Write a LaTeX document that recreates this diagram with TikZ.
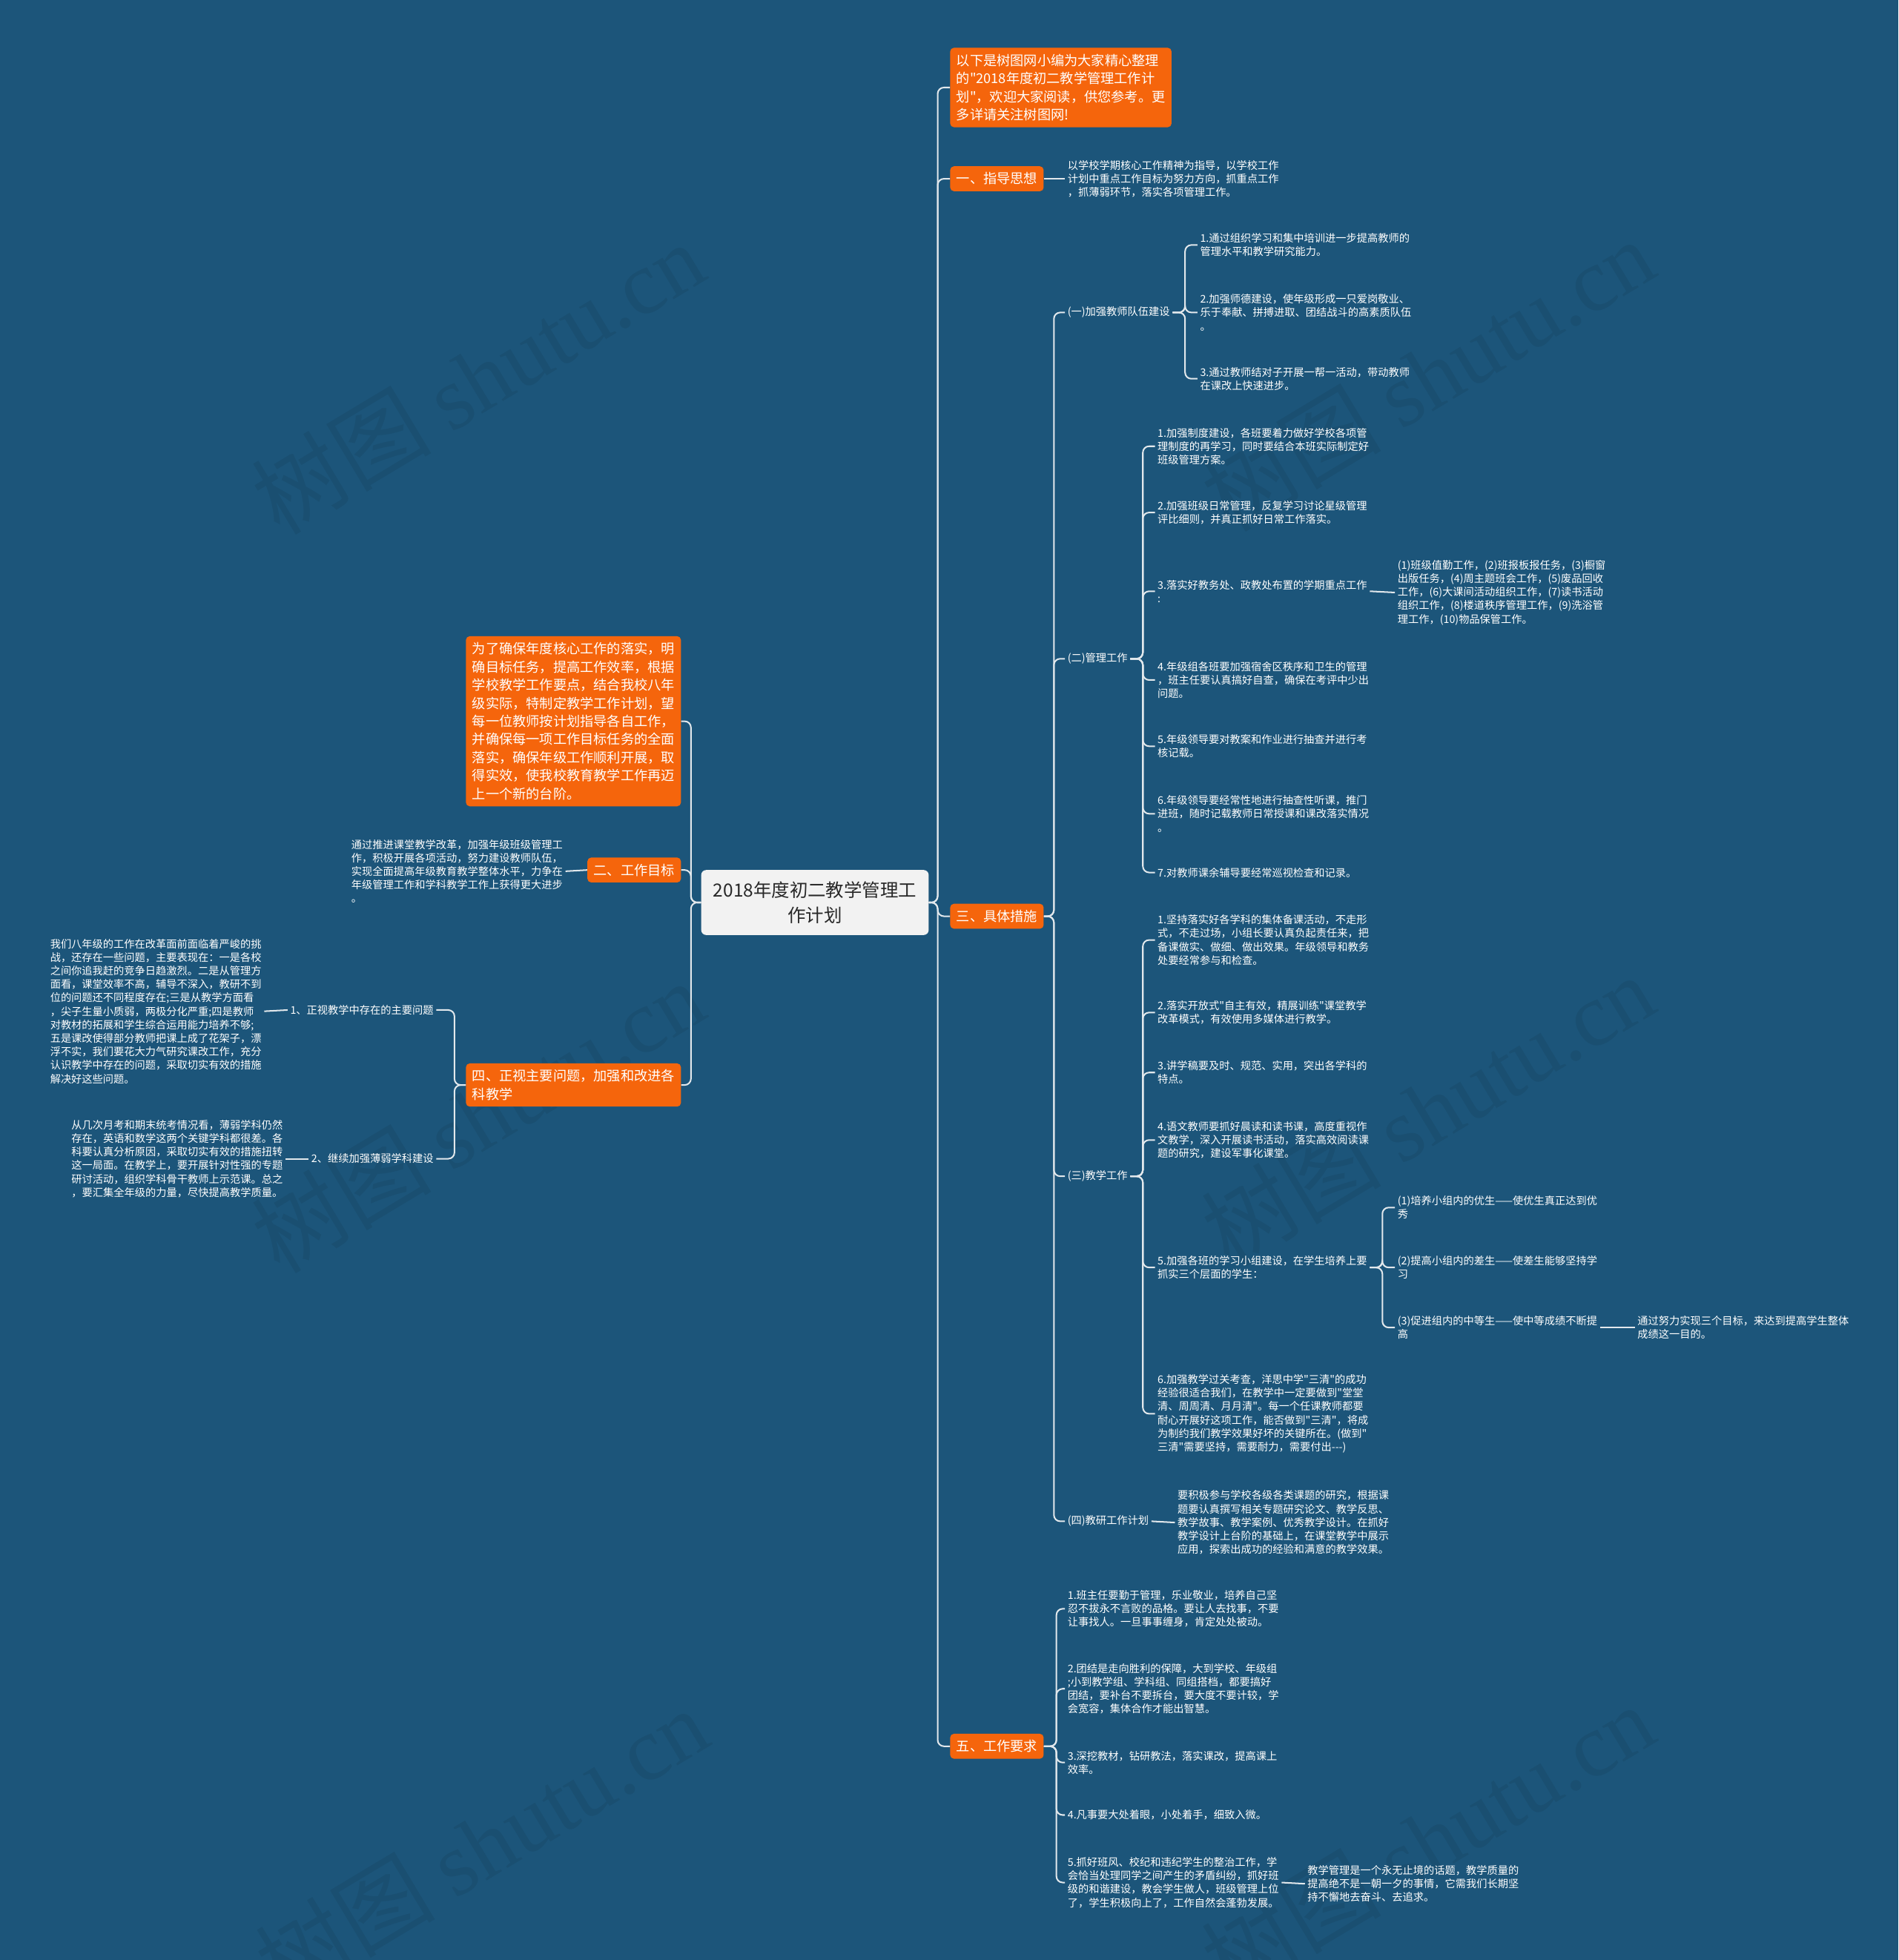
\documentclass[tikz,border=0pt]{standalone}
\usepackage{fontspec}
\setmainfont{Noto Sans CJK SC}[Ligatures=TeXOff]
\newfontfamily\wmfont{Liberation Serif}
\definecolor{mapbg}{RGB}{28,85,122}
\definecolor{boxorange}{RGB}{245,101,12}
\definecolor{linegray}{RGB}{226,232,236}
\definecolor{rootfill}{RGB}{242,242,242}
\definecolor{rootdark}{RGB}{40,40,40}
\tikzset{
	orangebox/.style={fill=boxorange,text=white,rounded corners=3pt,align=left,font=\fontsize{10.8}{14.5}\selectfont,inner xsep=5pt,inner ysep=5pt},
	tagbox/.style={fill=boxorange,text=white,rounded corners=3pt,font=\fontsize{10.8}{13}\selectfont,inner xsep=5pt,inner ysep=5pt},
	leaf/.style={text=white,align=left,font=\fontsize{8.45}{10.8}\selectfont,inner sep=2pt},
	link/.style={draw=linegray,line width=1.2pt,rounded corners=5pt},
	watermark/.style={rotate=31,text=black,opacity=0.07,font=\fontsize{72}{72}\selectfont}
}
\begin{document}
\begin{tikzpicture}[x=1pt,y=-1pt]
	\fill[mapbg] (0,0) rectangle (1519,1568);
	\useasboundingbox (0,0) rectangle (1519,1568);
	
	\foreach \wx/\wy [count=\wi] in {382/302,1142/300,382/893,1142/888,385/1475,1142/1472}
		\node[watermark] (wm\wi) at (\wx,\wy) {树图 {\wmfont shutu.cn}};
	
	\node[fill=rootfill,text=rootdark,rounded corners=4pt,align=center,minimum width=182pt,minimum height=52pt,font=\fontsize{14.5}{20}\selectfont] (root) at (652,722) {2018年度初二教学管理工\\作计划};
	
	% right side
	\node[orangebox,anchor=west] (intro) at (760,70) {以下是树图网小编为大家精心整理\\的"2018年度初二教学管理工作计\\划"，欢迎大家阅读，供您参考。更\\多详请关注树图网!};
	\node[tagbox,anchor=west] (s1) at (760,143) {一、指导思想};
	\node[tagbox,anchor=west] (s3) at (760,733) {三、具体措施};
	\node[tagbox,anchor=west] (s5) at (760,1397) {五、工作要求};
	
	\node[leaf,anchor=west] (s1t) at (852,143) {以学校学期核心工作精神为指导，以学校工作\\计划中重点工作目标为努力方向，抓重点工作\\，抓薄弱环节，落实各项管理工作。};
	
	\node[leaf,anchor=west] (m1) at (852,250) {(一)加强教师队伍建设};
	\node[leaf,anchor=west] (m1a) at (958,196) {1.通过组织学习和集中培训进一步提高教师的\\管理水平和教学研究能力。};
	\node[leaf,anchor=west] (m1b) at (958,250) {2.加强师德建设，使年级形成一只爱岗敬业、\\乐于奉献、拼搏进取、团结战斗的高素质队伍\\。};
	\node[leaf,anchor=west] (m1c) at (958,303) {3.通过教师结对子开展一帮一活动，带动教师\\在课改上快速进步。};
	
	\node[leaf,anchor=west] (m2) at (852,527) {(二)管理工作};
	\node[leaf,anchor=west] (m2a) at (924,357) {1.加强制度建设，各班要着力做好学校各项管\\理制度的再学习，同时要结合本班实际制定好\\班级管理方案。};
	\node[leaf,anchor=west] (m2b) at (924,410) {2.加强班级日常管理，反复学习讨论星级管理\\评比细则，并真正抓好日常工作落实。};
	\node[leaf,anchor=west] (m2c) at (924,473) {3.落实好教务处、政教处布置的学期重点工作\\:};
	\node[leaf,anchor=west] (m2c1) at (1116,474) {(1)班级值勤工作，(2)班报板报任务，(3)橱窗\\出版任务，(4)周主题班会工作，(5)废品回收\\工作，(6)大课间活动组织工作，(7)读书活动\\组织工作，(8)楼道秩序管理工作，(9)洗浴管\\理工作，(10)物品保管工作。};
	\node[leaf,anchor=west] (m2d) at (924,544) {4.年级组各班要加强宿舍区秩序和卫生的管理\\，班主任要认真搞好自查，确保在考评中少出\\问题。};
	\node[leaf,anchor=west] (m2e) at (924,597) {5.年级领导要对教案和作业进行抽查并进行考\\核记载。};
	\node[leaf,anchor=west] (m2f) at (924,651) {6.年级领导要经常性地进行抽查性听课，推门\\进班，随时记载教师日常授课和课改落实情况\\。};
	\node[leaf,anchor=west] (m2g) at (924,698) {7.对教师课余辅导要经常巡视检查和记录。};
	
	\node[leaf,anchor=west] (m3) at (852,941) {(三)教学工作};
	\node[leaf,anchor=west] (m3a) at (924,752) {1.坚持落实好各学科的集体备课活动，不走形\\式，不走过场，小组长要认真负起责任来，把\\备课做实、做细、做出效果。年级领导和教务\\处要经常参与和检查。};
	\node[leaf,anchor=west] (m3b) at (924,810) {2.落实开放式"自主有效，精展训练"课堂教学\\改革模式，有效使用多媒体进行教学。};
	\node[leaf,anchor=west] (m3c) at (924,858) {3.讲学稿要及时、规范、实用，突出各学科的\\特点。};
	\node[leaf,anchor=west] (m3d) at (924,912) {4.语文教师要抓好晨读和读书课，高度重视作\\文教学，深入开展读书活动，落实高效阅读课\\题的研究，建设军事化课堂。};
	\node[leaf,anchor=west] (m3e) at (924,1014) {5.加强各班的学习小组建设，在学生培养上要\\抓实三个层面的学生：};
	\node[leaf,anchor=west] (m3e1) at (1116,966) {(1)培养小组内的优生——使优生真正达到优\\秀};
	\node[leaf,anchor=west] (m3e2) at (1116,1014) {(2)提高小组内的差生——使差生能够坚持学\\习};
	\node[leaf,anchor=west] (m3e3) at (1116,1062) {(3)促进组内的中等生——使中等成绩不断提\\高};
	\node[leaf,anchor=west] (m3e3t) at (1308,1062) {通过努力实现三个目标，来达到提高学生整体\\成绩这一目的。};
	\node[leaf,anchor=west] (m3f) at (924,1131) {6.加强教学过关考查，洋思中学"三清"的成功\\经验很适合我们，在教学中一定要做到"堂堂\\清、周周清、月月清"。每一个任课教师都要\\耐心开展好这项工作，能否做到"三清"，将成\\为制约我们教学效果好坏的关键所在。(做到"\\三清"需要坚持，需要耐力，需要付出{-}{-}{-})};
	
	\node[leaf,anchor=west] (m4) at (852,1217) {(四)教研工作计划};
	\node[leaf,anchor=west] (m4t) at (940,1218) {要积极参与学校各级各类课题的研究，根据课\\题要认真撰写相关专题研究论文、教学反思、\\教学故事、教学案例、优秀教学设计。在抓好\\教学设计上台阶的基础上，在课堂教学中展示\\应用，探索出成功的经验和满意的教学效果。};
	
	\node[leaf,anchor=west] (r1) at (852,1287) {1.班主任要勤于管理，乐业敬业，培养自己坚\\忍不拔永不言败的品格。要让人去找事，不要\\让事找人。一旦事事缠身，肯定处处被动。};
	\node[leaf,anchor=west] (r2) at (852,1351) {2.团结是走向胜利的保障，大到学校、年级组\\;小到教学组、学科组、同组搭档，都要搞好\\团结，要补台不要拆台，要大度不要计较，学\\会宽容，集体合作才能出智慧。};
	\node[leaf,anchor=west] (r3) at (852,1410) {3.深挖教材，钻研教法，落实课改，提高课上\\效率。};
	\node[leaf,anchor=west] (r4) at (852,1452) {4.凡事要大处着眼，小处着手，细致入微。};
	\node[leaf,anchor=west] (r5) at (852,1506) {5.抓好班风、校纪和违纪学生的整治工作，学\\会恰当处理同学之间产生的矛盾纠纷，抓好班\\级的和谐建设，教会学生做人，班级管理上位\\了，学生积极向上了，工作自然会蓬勃发展。};
	\node[leaf,anchor=west] (r5t) at (1044,1507) {教学管理是一个永无止境的话题，教学质量的\\提高绝不是一朝一夕的事情，它需我们长期坚\\持不懈地去奋斗、去追求。};
	
	% left side
	\node[orangebox,anchor=east] (purpose) at (545,577) {为了确保年度核心工作的落实，明\\确目标任务，提高工作效率，根据\\学校教学工作要点，结合我校八年\\级实际，特制定教学工作计划，望\\每一位教师按计划指导各自工作，\\并确保每一项工作目标任务的全面\\落实，确保年级工作顺利开展，取\\得实效，使我校教育教学工作再迈\\上一个新的台阶。};
	\node[tagbox,anchor=east] (s2) at (545,696) {二、工作目标};
	\node[leaf,anchor=west] (s2t) at (279,697) {通过推进课堂教学改革，加强年级班级管理工\\作，积极开展各项活动，努力建设教师队伍，\\实现全面提高年级教育教学整体水平，力争在\\年级管理工作和学科教学工作上获得更大进步\\。};
	\node[orangebox,anchor=east] (s4) at (545,868) {四、正视主要问题，加强和改进各\\科教学};
	\node[leaf,anchor=east] (p1) at (349,808) {1、正视教学中存在的主要问题};
	\node[leaf,anchor=west] (p1t) at (38,809) {我们八年级的工作在改革面前面临着严峻的挑\\战，还存在一些问题，主要表现在：一是各校\\之间你追我赶的竞争日趋激烈。二是从管理方\\面看，课堂效率不高，辅导不深入，教研不到\\位的问题还不同程度存在;三是从教学方面看\\，尖子生量小质弱，两极分化严重;四是教师\\对教材的拓展和学生综合运用能力培养不够;\\五是课改使得部分教师把课上成了花架子，漂\\浮不实，我们要花大力气研究课改工作，充分\\认识教学中存在的问题，采取切实有效的措施\\解决好这些问题。};
	\node[leaf,anchor=east] (p2) at (349,927) {2、继续加强薄弱学科建设};
	\node[leaf,anchor=west] (p2t) at (55,927) {从几次月考和期末统考情况看，薄弱学科仍然\\存在，英语和数学这两个关键学科都很差。各\\科要认真分析原因，采取切实有效的措施扭转\\这一局面。在教学上，要开展针对性强的专题\\研讨活动，组织学科骨干教师上示范课。总之\\，要汇集全年级的力量，尽快提高教学质量。};
	
	% connectors
	\foreach \c in {intro,s1,s3,s5}
		\draw[link] (root.east) -- ++(7,0) |- (\c.west);
	\foreach \c in {purpose,s2,s4}
		\draw[link] (root.west) -- ++(-8,0) |- (\c.east);
	\draw[link] (s1.east) -- (s1t.west);
	\foreach \c in {m1,m2,m3,m4}
		\draw[link] (s3.east) -- ++(8,0) |- (\c.west);
	\foreach \c in {m1a,m1b,m1c}
		\draw[link] (m1.east) -- ++(10,0) |- (\c.west);
	\foreach \c in {m2a,m2b,m2c,m2d,m2e,m2f,m2g}
		\draw[link] (m2.east) -- ++(10,0) |- (\c.west);
	\draw[link] (m2c.east) -- (m2c1.west);
	\foreach \c in {m3a,m3b,m3c,m3d,m3e,m3f}
		\draw[link] (m3.east) -- ++(10,0) |- (\c.west);
	\foreach \c in {m3e1,m3e2,m3e3}
		\draw[link] (m3e.east) -- ++(10,0) |- (\c.west);
	\draw[link] (m3e3.east) -- (m3e3t.west);
	\draw[link] (m4.east) -- (m4t.west);
	\foreach \c in {r1,r2,r3,r4,r5}
		\draw[link] (s5.east) -- ++(10,0) |- (\c.west);
	\draw[link] (r5.east) -- (r5t.west);
	\draw[link] (s2.west) -- (s2t.east);
	\foreach \c in {p1,p2}
		\draw[link] (s4.west) -- ++(-9,0) |- (\c.east);
	\draw[link] (p1.west) -- (p1t.east);
	\draw[link] (p2.west) -- (p2t.east);
\end{tikzpicture}
\end{document}
